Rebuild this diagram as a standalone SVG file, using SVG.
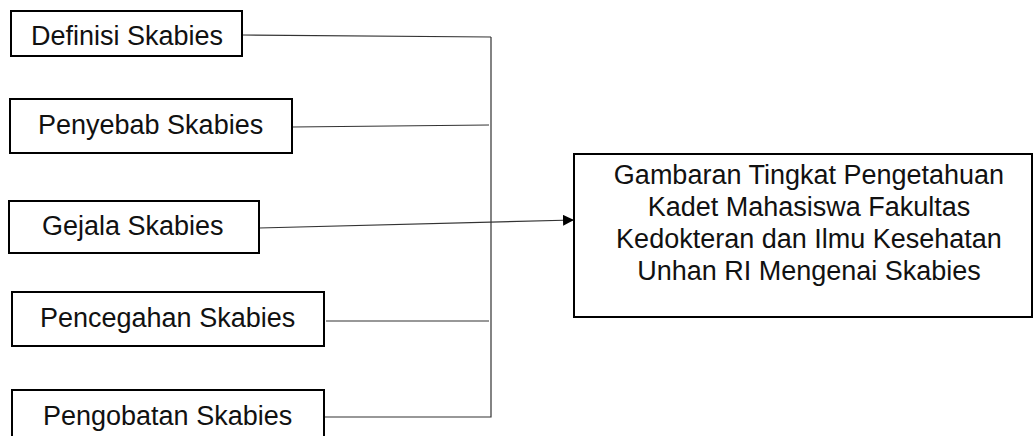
<svg xmlns="http://www.w3.org/2000/svg" width="1033" height="436" viewBox="0 0 1033 436">
<style>
.box{fill:#fff;stroke:#000;stroke-width:2}
.t{font-family:"Liberation Sans",Arial,sans-serif;font-size:27px;fill:#111}
.c{fill:none;stroke:#333;stroke-width:1.2}
</style>
<defs>
<marker id="arr" viewBox="0 0 11 11" refX="11" refY="5.5" markerWidth="11" markerHeight="11" markerUnits="userSpaceOnUse" orient="auto">
<path d="M0,0 L11,5.5 L0,11 Z" fill="#000"/>
</marker>
</defs>
<rect width="1033" height="436" fill="#fff"/>
<g id="connectors">
<path class="c" d="M242,35 L491,37"/>
<path class="c" d="M292,127 L489,125"/>
<path class="c" d="M326,321 L489,321"/>
<path class="c" d="M324,417 L491,417 L491,37"/>
<path class="c" d="M259,228 L574,220" marker-end="url(#arr)"/>
</g>
<g id="n1"><rect class="box" x="11" y="11" width="231" height="45"/><text class="t" x="31" y="45">Definisi Skabies</text></g>
<g id="n2"><rect class="box" x="10" y="99" width="282" height="54"/><text class="t" x="38" y="134">Penyebab Skabies</text></g>
<g id="n3"><rect class="box" x="9" y="201" width="250" height="52"/><text class="t" x="42" y="235">Gejala Skabies</text></g>
<g id="n4"><rect class="box" x="12" y="292" width="312" height="54"/><text class="t" x="40" y="327">Pencegahan Skabies</text></g>
<g id="n5"><rect class="box" x="12" y="390" width="312" height="60"/><text class="t" x="43" y="425">Pengobatan Skabies</text></g>
<g id="target"><rect class="box" x="574" y="154" width="458" height="163"/>
<text class="t" text-anchor="middle" x="809" y="184">Gambaran Tingkat Pengetahuan</text>
<text class="t" text-anchor="middle" x="809" y="216">Kadet Mahasiswa Fakultas</text>
<text class="t" text-anchor="middle" x="809" y="248">Kedokteran dan Ilmu Kesehatan</text>
<text class="t" text-anchor="middle" x="809" y="280">Unhan RI Mengenai Skabies</text>
</g>
</svg>
